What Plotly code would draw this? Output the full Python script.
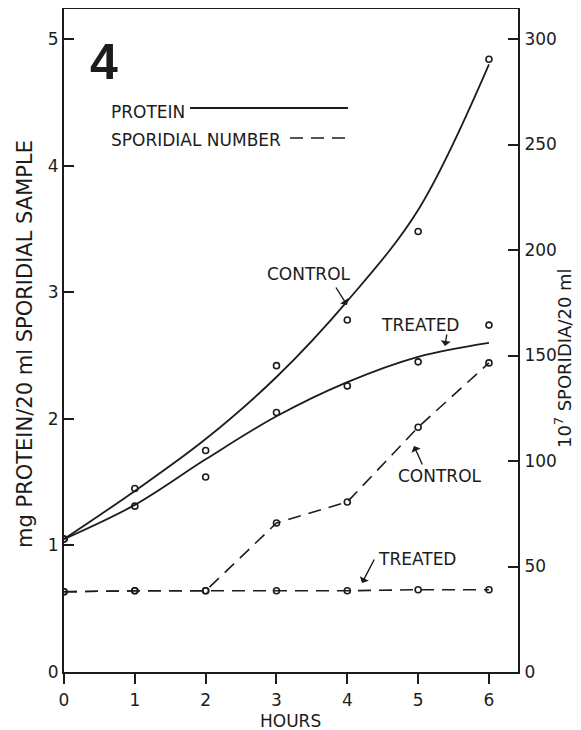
import plotly.graph_objects as go

# ---------------- data ----------------
hours = [0, 1, 2, 3, 4, 5, 6]

# protein, mg / 20 ml sporidial sample (left axis)
protein_control_pts = [1.05, 1.45, 1.75, 2.42, 2.78, 3.48, 4.84]
protein_treated_pts = [1.05, 1.31, 1.54, 2.05, 2.26, 2.45, 2.74]
# hand-fitted smooth curves, read at each hour
protein_control_fit = [1.05, 1.43, 1.84, 2.33, 2.93, 3.65, 4.80]
protein_treated_fit = [1.05, 1.32, 1.68, 2.02, 2.29, 2.49, 2.60]

# sporidial number, 10^7 sporidia / 20 ml (right axis)
spor_control = [38, 38.5, 38.5, 70.6, 80.6, 116, 146.5]
spor_treated = [38, 38.5, 38.5, 38.5, 38.5, 39, 39]

x_ticks = [0, 1, 2, 3, 4, 5, 6]
y_left_ticks = [0, 1, 2, 3, 4, 5]
y_right_ticks = [0, 50, 100, 150, 200, 250, 300]

# ---------------- layout geometry ----------------
# the page body has an 8px default margin, so the figure is drawn 8px in
OFF = 8
SW, SH = 581, 730                 # screen size
PL, PR, PT, PB = 64, 518, 9, 672  # plot box on screen
W, H = SW - OFF, SH - OFF
L, R, T, B = PL - OFF, SW - PR, PT - OFF, SH - PB
XMAX = 6.41
YMAX = 5.237
RATIO = 60.0  # right-axis units per left-axis unit

INK = "#1c1c1c"
FONT = "DejaVu Sans"


def pxx(px):
    return (px - PL) / (PR - PL)


def pxy(py):
    return (PB - py) / (PB - PT)


fig = go.Figure()

# protein fitted curves
for fit in (protein_control_fit, protein_treated_fit):
    fig.add_trace(go.Scatter(
        x=hours, y=fit, mode="lines",
        line=dict(color=INK, width=1.8, shape="spline", smoothing=1.0),
        hoverinfo="skip", showlegend=False))

# protein points
for pts in (protein_control_pts, protein_treated_pts):
    fig.add_trace(go.Scatter(
        x=hours, y=pts, mode="markers",
        marker=dict(symbol="circle-open", size=6, color=INK, line=dict(width=1.6)),
        showlegend=False))

# sporidial number dashed lines
for sp in (spor_control, spor_treated):
    fig.add_trace(go.Scatter(
        x=hours, y=sp, mode="lines+markers", yaxis="y2",
        line=dict(color=INK, width=1.6, dash="13px,8px"),
        marker=dict(symbol="circle-open", size=6, color=INK, line=dict(width=1.6)),
        showlegend=False))

annotations = []


def text(px, py, s, size=17, anchor="center", bold=False, family=FONT, angle=0):
    annotations.append(dict(
        xref="paper", yref="paper", x=pxx(px), y=pxy(py), text=s,
        showarrow=False, xanchor=anchor, yanchor="middle", textangle=angle,
        borderpad=0,
        font=dict(family=family, size=size, color=INK,
                  weight="bold" if bold else "normal")))


def arrow(tx, ty, hx, hy):
    annotations.append(dict(
        xref="paper", yref="paper", x=pxx(hx), y=pxy(hy),
        axref="pixel", ayref="pixel", ax=tx - hx, ay=ty - hy,
        text="", showarrow=True, arrowhead=1, arrowsize=1.2,
        arrowwidth=1.4, arrowcolor=INK))


# figure number and key
text(104, 62, "4", size=50, bold=True, family="Liberation Sans")
text(110, 112, "PROTEIN", anchor="left")
text(110, 140, "SPORIDIAL NUMBER", anchor="left")

# curve labels
text(309, 274, "CONTROL")
arrow(335, 286, 347, 305)
text(420, 325, "TREATED")
arrow(447, 333, 445, 346)
text(440, 476, "CONTROL")
arrow(423, 466, 414, 446)
text(417, 559, "TREATED")
arrow(375, 558, 362, 583)

# axis titles
text(290, 721, "HOURS")
text(25, 344, "mg PROTEIN/20 ml SPORIDIAL SAMPLE", size=21, angle=-90)
text(563, 358, "10<sup>7</sup> SPORIDIA/20 ml", size=18, angle=-90)

shapes = [
    dict(type="line", xref="paper", yref="paper",
         x0=pxx(190), x1=pxx(348), y0=pxy(108), y1=pxy(108),
         line=dict(color=INK, width=1.8)),
    dict(type="line", xref="paper", yref="paper",
         x0=pxx(290), x1=pxx(348), y0=pxy(138), y1=pxy(138),
         line=dict(color=INK, width=1.6, dash="13px,8px")),
]

axis_font = dict(family=FONT, size=17, color=INK)

fig.update_layout(
    width=W, height=H,
    margin=dict(l=L, r=R, t=T, b=B, autoexpand=False),
    paper_bgcolor="white", plot_bgcolor="white",
    showlegend=False,
    annotations=annotations,
    shapes=shapes,
    xaxis=dict(
        range=[0, XMAX], tickvals=x_ticks, ticktext=[str(v) for v in x_ticks],
        ticks="outside", ticklen=10, tickwidth=1.8, tickcolor=INK,
        showline=True, linecolor=INK, linewidth=2, mirror=True,
        showgrid=False, zeroline=False, tickfont=axis_font,
        ticklabelstandoff=2, automargin=False,
    ),
    yaxis=dict(
        range=[0, YMAX], tickvals=y_left_ticks, ticktext=[str(v) for v in y_left_ticks],
        ticks="inside", ticklen=10, tickwidth=1.8, tickcolor=INK,
        showline=True, linecolor=INK, linewidth=2,
        showgrid=False, zeroline=False, tickfont=axis_font,
        automargin=False,
    ),
    yaxis2=dict(
        range=[0, YMAX * RATIO], tickvals=y_right_ticks,
        ticktext=[str(v) for v in y_right_ticks],
        overlaying="y", side="right",
        ticks="inside", ticklen=10, tickwidth=1.8, tickcolor=INK,
        showline=True, linecolor=INK, linewidth=2,
        showgrid=False, zeroline=False, tickfont=axis_font,
        ticklabelstandoff=1,
        automargin=False,
    ),
)

fig.write_html("out.html")
